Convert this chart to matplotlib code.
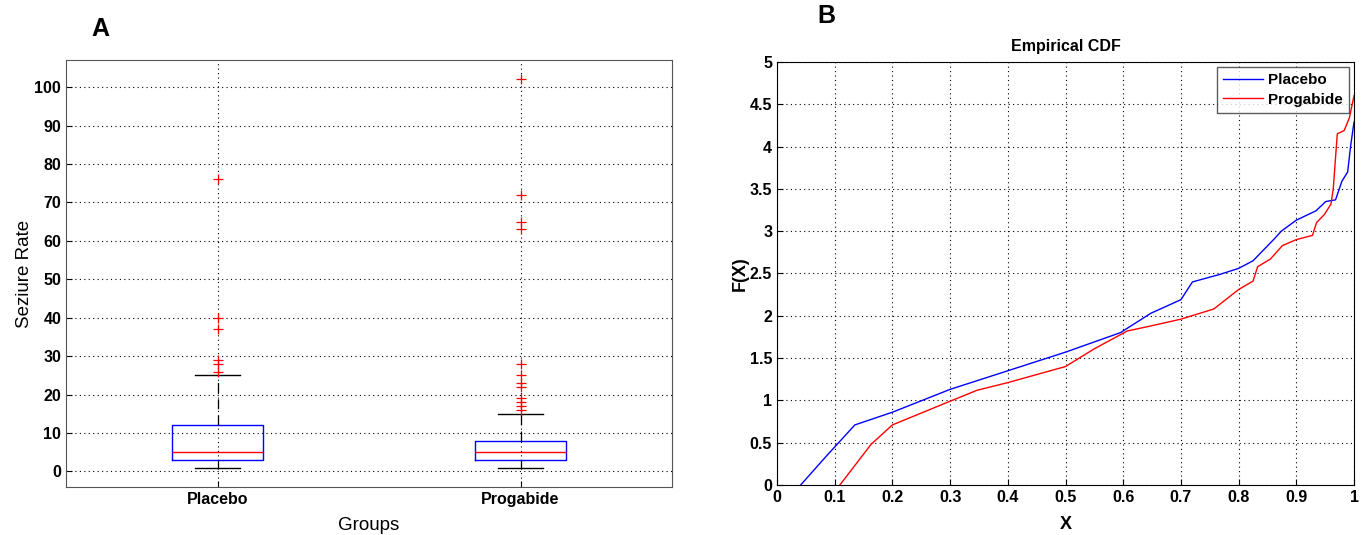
import numpy as np
import matplotlib
matplotlib.use("Agg")
import matplotlib.pyplot as plt

plt.rcParams['font.family'] = ['Liberation Sans', 'DejaVu Sans']

# panel A: box plot summary per group
groups = ['Placebo', 'Progabide']
whisker_low = [1, 1]
q1 = [3, 3]
medians = [5, 5]
q3 = [12, 8]
whisker_high = [25, 15]
outliers = [
    [26, 28, 29, 37, 40, 76],
    [16, 17, 18, 19, 22, 23, 25, 28, 63, 65, 72, 102],
]

# panel B: empirical curves
placebo_x = [0.041, 0.088, 0.135, 0.2, 0.3, 0.4, 0.5, 0.595, 0.648, 0.7, 0.72,
             0.768, 0.8, 0.825, 0.862, 0.874, 0.9, 0.934, 0.951, 0.968, 0.979,
             0.989, 0.994, 1.0]
placebo_y = [0.0, 0.36, 0.71, 0.86, 1.13, 1.35, 1.57, 1.8, 2.03, 2.19, 2.4,
             2.49, 2.56, 2.65, 2.91, 3.0, 3.13, 3.24, 3.35, 3.37, 3.59,
             3.7, 4.0, 4.29]
progabide_x = [0.109, 0.163, 0.2, 0.3, 0.347, 0.4, 0.5, 0.55, 0.607, 0.648, 0.7,
               0.757, 0.8, 0.825, 0.833, 0.855, 0.876, 0.9, 0.928, 0.935, 0.949,
               0.96, 0.964, 0.971, 0.983, 0.992, 1.0]
progabide_y = [0.0, 0.48, 0.71, 0.99, 1.12, 1.21, 1.4, 1.61, 1.82, 1.88, 1.96,
               2.08, 2.31, 2.41, 2.58, 2.67, 2.83, 2.9, 2.95, 3.1, 3.2,
               3.32, 3.5, 4.15, 4.19, 4.34, 4.6]

fig = plt.figure(figsize=(13.67, 5.35), dpi=100)

# ---- A ----
ax1 = fig.add_axes([0.0483, 0.0897, 0.4433, 0.798])
stats = []
for i in range(len(groups)):
    stats.append(dict(label=groups[i], whislo=whisker_low[i], q1=q1[i], med=medians[i],
                      q3=q3[i], whishi=whisker_high[i], fliers=outliers[i]))
ax1.bxp(stats, positions=[1, 2], widths=0.3, showfliers=True,
        boxprops=dict(color='#0000ff', linewidth=1.0),
        medianprops=dict(color='#ff0000', linewidth=1.0),
        whiskerprops=dict(color='black', linestyle=(0, (8, 5)), linewidth=0.9),
        capprops=dict(color='black', linewidth=1.0),
        capwidths=0.15,
        flierprops=dict(marker='+', markeredgecolor='#ff0000', markersize=7,
                        markeredgewidth=0.9, linestyle='none'))
ax1.set_xlim(0.5, 2.5)
ax1.set_ylim(-4.05, 107.05)
ax1.set_yticks(np.arange(0, 101, 10))
ax1.set_xticks([1, 2])
ax1.set_xticklabels(groups)
ax1.grid(True, linestyle=(0, (1, 3)), color='black', linewidth=0.8)
ax1.set_axisbelow(True)
ax1.tick_params(labelsize=11.5, direction='in', length=4)
for lab in ax1.get_xticklabels() + ax1.get_yticklabels():
    lab.set_fontweight('bold')
ax1.set_ylabel('Seziure Rate', fontsize=13.5, labelpad=1)
ax1.set_xlabel('Groups', fontsize=13.5, labelpad=7)
for s in ax1.spines.values():
    s.set_color('#555555')
fig.text(0.0666, 0.945, 'A', fontsize=18, fontweight='bold', ha='left', va='center')

# ---- B ----
ax2 = fig.add_axes([0.5684, 0.0935, 0.4221, 0.7907])
ax2.plot(placebo_x, placebo_y, color='#0000ff', linewidth=1.0, label='Placebo')
ax2.plot(progabide_x, progabide_y, color='#ff0000', linewidth=1.0, label='Progabide')
ax2.set_xlim(0, 1)
ax2.set_ylim(0, 5)
ax2.set_xticks(np.arange(0, 1.01, 0.1))
ax2.set_xticklabels(['0', '0.1', '0.2', '0.3', '0.4', '0.5', '0.6', '0.7', '0.8', '0.9', '1'])
ax2.set_yticks(np.arange(0, 5.01, 0.5))
ax2.set_yticklabels(['0', '0.5', '1', '1.5', '2', '2.5', '3', '3.5', '4', '4.5', '5'])
ax2.grid(True, linestyle=(0, (1, 3)), color='black', linewidth=0.8)
ax2.tick_params(labelsize=11.5, direction='in', length=4)
for lab in ax2.get_xticklabels() + ax2.get_yticklabels():
    lab.set_fontweight('bold')
ax2.set_title('Empirical CDF', fontsize=11.5, fontweight='bold', pad=8)
ax2.set_xlabel('X', fontsize=13, fontweight='bold', labelpad=8)
ax2.set_ylabel('F(X)', fontsize=13, fontweight='bold', labelpad=1)
leg = ax2.legend(loc='upper right', fancybox=False, edgecolor='#333333',
                 prop=dict(weight='bold', size=11), borderaxespad=0.35,
                 handlelength=2.6, handletextpad=0.3, borderpad=0.4, labelspacing=0.35)
leg.get_frame().set_linewidth(1.0)
fig.text(0.598, 0.97, 'B', fontsize=18, fontweight='bold', ha='left', va='center')

fig.savefig('out.png', dpi=100)
